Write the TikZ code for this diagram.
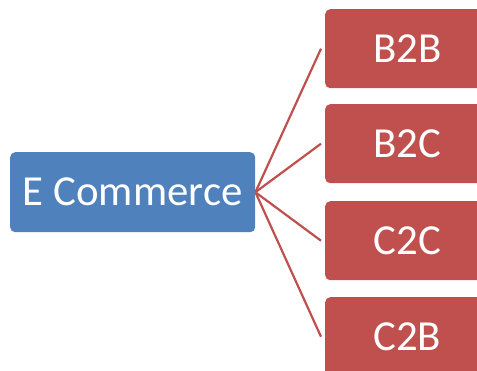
\documentclass[tikz,border=0pt]{standalone}
\usepackage{fontspec}
\setmainfont{Carlito}
\definecolor{boxblue}{HTML}{4F81BD}
\definecolor{boxred}{HTML}{C0504D}
\begin{document}
\begin{tikzpicture}[x=1bp,y=-1bp,
  box/.style={rounded corners=5bp, text=white, font=\fontsize{43}{50}\selectfont,
    inner sep=0pt, anchor=north west},
  bluebox/.style={box, fill=boxblue, minimum width=245bp, minimum height=80bp},
  redbox/.style={box, fill=boxred, minimum width=164bp, minimum height=79bp},
  link/.style={draw=boxred, line width=2.2bp}]
\useasboundingbox (0,0) rectangle (477,370);
\clip (0,0) rectangle (477,370);
\node[bluebox] (ec) at (10,152) {E Commerce};
\node[redbox] (b2b) at (325,9) {B2B};
\node[redbox] (b2c) at (325,104) {B2C};
\node[redbox] (c2c) at (325,201) {C2C};
\node[redbox] (c2b) at (325,297) {C2B};
\coordinate (e1) at ([xshift=-4bp]b2b.west);
\coordinate (e2) at ([xshift=-4bp]b2c.west);
\coordinate (e3) at ([xshift=-4bp]c2c.west);
\coordinate (e4) at ([xshift=-4bp]c2b.west);
\foreach \e in {e1,e2,e3,e4} \draw[link] (ec.east) -- (\e);
\end{tikzpicture}
\end{document}
